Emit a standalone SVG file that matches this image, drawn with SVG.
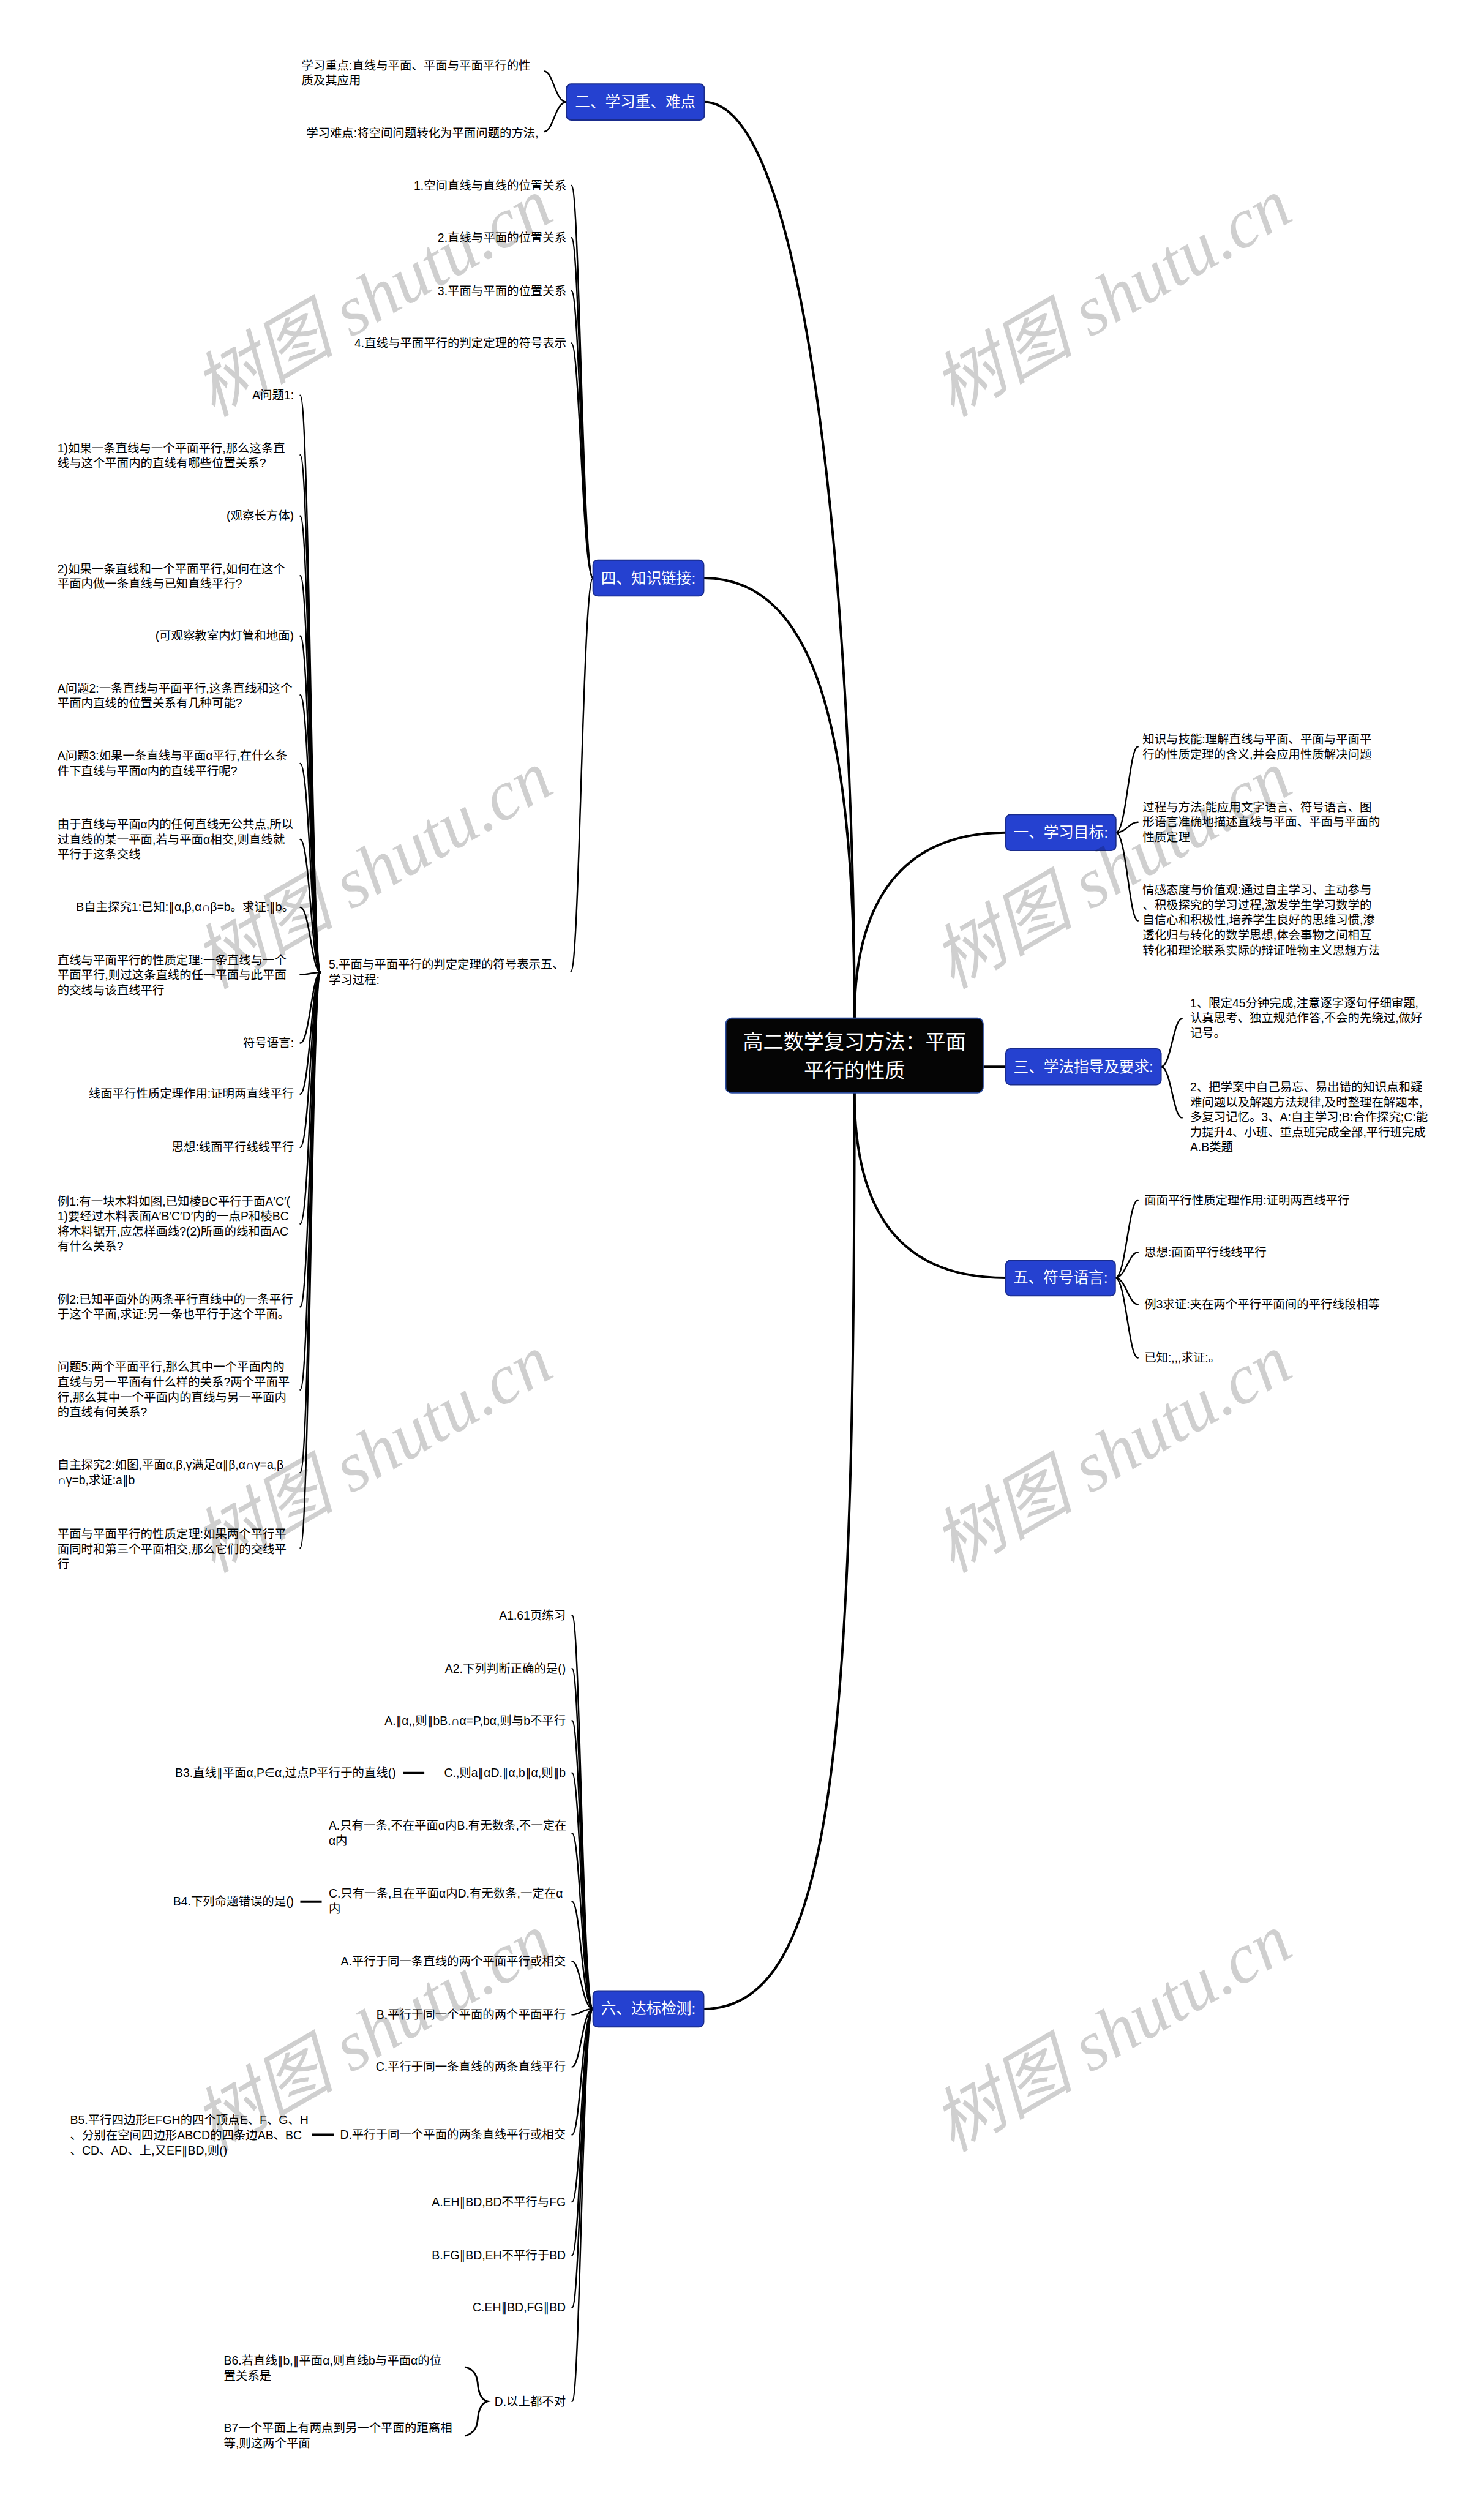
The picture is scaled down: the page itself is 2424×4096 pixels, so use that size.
<svg xmlns="http://www.w3.org/2000/svg" width="2424" height="4096" viewBox="0 0 2424 4096">
<style>
.t{font-family:"Liberation Sans","DejaVu Sans","Noto Sans CJK SC",sans-serif;font-size:20.5px;fill:#000}
.e{text-anchor:end}
.n{font-family:"Liberation Sans","Noto Sans CJK SC",sans-serif;font-size:26px;fill:#fff;text-anchor:middle}
.c{font-family:"Liberation Sans","Noto Sans CJK SC",sans-serif;font-size:35px;fill:#fff;text-anchor:middle}
.box{fill:#2541d0;stroke:#1a2c8c;stroke-width:2}
.root{fill:#050505;stroke:#2a4a9c;stroke-width:2}
.l{fill:none;stroke:#000;stroke-width:2.6;stroke-linecap:round}
.m{fill:none;stroke:#000;stroke-width:4.2;stroke-linecap:round}
.s{fill:none;stroke:#000;stroke-width:4;stroke-linecap:butt}
.wm{font-family:"Liberation Serif","Noto Sans CJK SC",serif;font-style:italic;font-size:122px;fill:#000;fill-opacity:0.19;text-anchor:middle}
</style>
<rect width="2424" height="4096" fill="#fff"/>
<g transform="scale(0.946875)">
<g id="connectors">
<path class="m" d="M1474,1756 C1474,1100 1400,176 1215,176"/>
<path class="m" d="M1474,1756 C1474,1300 1420,997 1214,997"/>
<path class="m" d="M1474,1756 C1474,1550 1560,1436 1735,1436"/>
<path class="m" d="M1696,1840 L1735,1840"/>
<path class="m" d="M1474,1885 C1474,2100 1560,2204 1735,2204"/>
<path class="m" d="M1474,1885 C1474,3000 1440,3465 1214,3465"/>
<path class="l" d="M977,176 C958,176 954,123 939,123"/>
<path class="l" d="M977,176 C958,176 954,227 939,227"/>
<path class="l" d="M1023,997 C1005,997 1000,320 986,320"/>
<path class="l" d="M1023,997 C1005,997 1000,410 986,410"/>
<path class="l" d="M1023,997 C1005,997 1000,502 986,502"/>
<path class="l" d="M1023,997 C1005,997 1000,592 986,592"/>
<path class="l" d="M1023,997 C1005,997 1000,1675 985,1675"/>
<path class="l" d="M553,1677 C538,1677 534,682 518,682"/>
<path class="l" d="M553,1677 C538,1677 534,785 518,785"/>
<path class="l" d="M553,1677 C538,1677 534,890 518,890"/>
<path class="l" d="M553,1677 C538,1677 534,993 518,993"/>
<path class="l" d="M553,1677 C538,1677 534,1097 518,1097"/>
<path class="l" d="M553,1677 C538,1677 534,1199 518,1199"/>
<path class="l" d="M553,1677 C538,1677 534,1317 518,1317"/>
<path class="l" d="M553,1677 C538,1677 534,1448 518,1448"/>
<path class="l" d="M553,1677 C538,1677 534,1565 518,1565"/>
<path class="l" d="M553,1677 C538,1677 534,1681 518,1681"/>
<path class="l" d="M553,1677 C538,1677 534,1799 518,1799"/>
<path class="l" d="M553,1677 C538,1677 534,1887 518,1887"/>
<path class="l" d="M553,1677 C538,1677 534,1979 518,1979"/>
<path class="l" d="M553,1677 C538,1677 534,2111 518,2111"/>
<path class="l" d="M553,1677 C538,1677 534,2254 518,2254"/>
<path class="l" d="M553,1677 C538,1677 534,2397 518,2397"/>
<path class="l" d="M553,1677 C538,1677 534,2540 518,2540"/>
<path class="l" d="M553,1677 C538,1677 534,2670 518,2670"/>
<path class="l" d="M1925,1436 C1943,1436 1948,1288 1963,1288"/>
<path class="l" d="M1925,1436 C1943,1436 1948,1418 1963,1418"/>
<path class="l" d="M1925,1436 C1943,1436 1948,1588 1963,1588"/>
<path class="l" d="M2003,1840 C2020,1840 2024,1757 2039,1757"/>
<path class="l" d="M2003,1840 C2020,1840 2024,1928 2039,1928"/>
<path class="l" d="M1924,2204 C1942,2204 1947,2070 1963,2070"/>
<path class="l" d="M1924,2204 C1942,2204 1947,2160 1963,2160"/>
<path class="l" d="M1924,2204 C1942,2204 1947,2250 1963,2250"/>
<path class="l" d="M1924,2204 C1942,2204 1947,2342 1963,2342"/>
<path class="l" d="M1023,3465 C1005,3465 1001,2786 987,2786"/>
<path class="l" d="M1023,3465 C1005,3465 1001,2878 987,2878"/>
<path class="l" d="M1023,3465 C1005,3465 1001,2968 987,2968"/>
<path class="l" d="M1023,3465 C1005,3465 1001,3058 987,3058"/>
<path class="l" d="M1023,3465 C1005,3465 1001,3162 987,3162"/>
<path class="l" d="M1023,3465 C1005,3465 1001,3280 987,3280"/>
<path class="l" d="M1023,3465 C1005,3465 1001,3383 987,3383"/>
<path class="l" d="M1023,3465 C1005,3465 1001,3475 987,3475"/>
<path class="l" d="M1023,3465 C1005,3465 1001,3565 987,3565"/>
<path class="l" d="M1023,3465 C1005,3465 1001,3682 987,3682"/>
<path class="l" d="M1023,3465 C1005,3465 1001,3798 987,3798"/>
<path class="l" d="M1023,3465 C1005,3465 1001,3890 987,3890"/>
<path class="l" d="M1023,3465 C1005,3465 1001,3980 987,3980"/>
<path class="l" d="M1023,3465 C1005,3465 1001,4142 987,4142"/>
<path class="s" d="M695,3058 L732,3058"/>
<path class="s" d="M518,3280 L555,3280"/>
<path class="s" d="M538,3682 L576,3682"/>
<path class="l" d="M803,4083 Q822,4088 824,4110 Q826,4138 841,4142 Q826,4146 824,4174 Q822,4196 803,4201" style="stroke-width:3"/>
</g>

<g id="root">
<rect class="root" x="1252" y="1756" width="444" height="129" rx="10"/>
<text class="c" x="1474" y="1809">高二数学复习方法：平面</text>
<text class="c" x="1474" y="1859">平行的性质</text>
</g>

<g id="n2"><rect class="box" x="977" y="145" width="238" height="62" rx="8"/><text class="n" x="1096" y="185">二、学习重、难点</text></g>
<g id="n2-1"><text class="t" x="520" y="120">学习重点:直线与平面、平面与平面平行的性<tspan x="520" dy="26">质及其应用</tspan></text></g>
<g id="n2-2"><text class="t e" x="929" y="237">学习难点:将空间问题转化为平面问题的方法,</text></g>

<g id="n4"><rect class="box" x="1023" y="966" width="191" height="62" rx="8"/><text class="n" x="1118.5" y="1006">四、知识链接:</text></g>
<g id="n4-1"><text class="t e" x="977" y="327">1.空间直线与直线的位置关系</text></g>
<g id="n4-2"><text class="t e" x="977" y="417">2.直线与平面的位置关系</text></g>
<g id="n4-3"><text class="t e" x="977" y="509">3.平面与平面的位置关系</text></g>
<g id="n4-4"><text class="t e" x="977" y="599">4.直线与平面平行的判定定理的符号表示</text></g>
<g id="n4-5"><text class="t" x="567" y="1671">5.平面与平面平行的判定定理的符号表示五、<tspan x="567" dy="26">学习过程:</tspan></text></g>

<g id="n4-5-1"><text class="t e" x="507" y="689">A问题1:</text></g>
<g id="n4-5-2"><text class="t" x="99" y="780">1)如果一条直线与一个平面平行,那么这条直<tspan x="99" dy="26">线与这个平面内的直线有哪些位置关系?</tspan></text></g>
<g id="n4-5-3"><text class="t e" x="507" y="897">(观察长方体)</text></g>
<g id="n4-5-4"><text class="t" x="99" y="988">2)如果一条直线和一个平面平行,如何在这个<tspan x="99" dy="26">平面内做一条直线与已知直线平行?</tspan></text></g>
<g id="n4-5-5"><text class="t e" x="507" y="1104">(可观察教室内灯管和地面)</text></g>
<g id="n4-5-6"><text class="t" x="99" y="1194">A问题2:一条直线与平面平行,这条直线和这个<tspan x="99" dy="26">平面内直线的位置关系有几种可能?</tspan></text></g>
<g id="n4-5-7"><text class="t" x="99" y="1311">A问题3:如果一条直线与平面α平行,在什么条<tspan x="99" dy="26">件下直线与平面α内的直线平行呢?</tspan></text></g>
<g id="n4-5-8"><text class="t" x="99" y="1429">由于直线与平面α内的任何直线无公共点,所以<tspan x="99" dy="26">过直线的某一平面,若与平面α相交,则直线就</tspan><tspan x="99" dy="26">平行于这条交线</tspan></text></g>
<g id="n4-5-9"><text class="t e" x="507" y="1572">B自主探究1:已知:∥α,β,α∩β=b。求证:∥b。</text></g>
<g id="n4-5-10"><text class="t" x="99" y="1663">直线与平面平行的性质定理:一条直线与一个<tspan x="99" dy="26">平面平行,则过这条直线的任一平面与此平面</tspan><tspan x="99" dy="26">的交线与该直线平行</tspan></text></g>
<g id="n4-5-11"><text class="t e" x="507" y="1806">符号语言:</text></g>
<g id="n4-5-12"><text class="t e" x="507" y="1894">线面平行性质定理作用:证明两直线平行</text></g>
<g id="n4-5-13"><text class="t e" x="507" y="1986">思想:线面平行线线平行</text></g>
<g id="n4-5-14"><text class="t" x="99" y="2079">例1:有一块木料如图,已知棱BC平行于面A′C′(<tspan x="99" dy="26">1)要经过木料表面A′B′C′D′内的一点P和棱BC</tspan><tspan x="99" dy="26">将木料锯开,应怎样画线?(2)所画的线和面AC</tspan><tspan x="99" dy="26">有什么关系?</tspan></text></g>
<g id="n4-5-15"><text class="t" x="99" y="2248">例2:已知平面外的两条平行直线中的一条平行<tspan x="99" dy="26">于这个平面,求证:另一条也平行于这个平面。</tspan></text></g>
<g id="n4-5-16"><text class="t" x="99" y="2365">问题5:两个平面平行,那么其中一个平面内的<tspan x="99" dy="26">直线与另一平面有什么样的关系?两个平面平</tspan><tspan x="99" dy="26">行,那么其中一个平面内的直线与另一平面内</tspan><tspan x="99" dy="26">的直线有何关系?</tspan></text></g>
<g id="n4-5-17"><text class="t" x="99" y="2534">自主探究2:如图,平面α,β,γ满足α∥β,α∩γ=a,β<tspan x="99" dy="26">∩γ=b,求证:a∥b</tspan></text></g>
<g id="n4-5-18"><text class="t" x="99" y="2653">平面与平面平行的性质定理:如果两个平行平<tspan x="99" dy="26">面同时和第三个平面相交,那么它们的交线平</tspan><tspan x="99" dy="26">行</tspan></text></g>

<g id="n1"><rect class="box" x="1735" y="1405" width="190" height="62" rx="8"/><text class="n" x="1830" y="1445">一、学习目标:</text></g>
<g id="n1-1"><text class="t" x="1971" y="1282">知识与技能:理解直线与平面、平面与平面平<tspan x="1971" dy="26">行的性质定理的含义,并会应用性质解决问题</tspan></text></g>
<g id="n1-2"><text class="t" x="1971" y="1399">过程与方法:能应用文字语言、符号语言、图<tspan x="1971" dy="26">形语言准确地描述直线与平面、平面与平面的</tspan><tspan x="1971" dy="26">性质定理</tspan></text></g>
<g id="n1-3"><text class="t" x="1971" y="1542">情感态度与价值观:通过自主学习、主动参与<tspan x="1971" dy="26">、积极探究的学习过程,激发学生学习数学的</tspan><tspan x="1971" dy="26">自信心和积极性,培养学生良好的思维习惯,渗</tspan><tspan x="1971" dy="26">透化归与转化的数学思想,体会事物之间相互</tspan><tspan x="1971" dy="26">转化和理论联系实际的辩证唯物主义思想方法</tspan></text></g>

<g id="n3"><rect class="box" x="1735" y="1809" width="268" height="62" rx="8"/><text class="n" x="1869" y="1849">三、学法指导及要求:</text></g>
<g id="n3-1"><text class="t" x="2053" y="1737">1、限定45分钟完成,注意逐字逐句仔细审题,<tspan x="2053" dy="26">认真思考、独立规范作答,不会的先绕过,做好</tspan><tspan x="2053" dy="26">记号。</tspan></text></g>
<g id="n3-2"><text class="t" x="2053" y="1882">2、把学案中自己易忘、易出错的知识点和疑<tspan x="2053" dy="26">难问题以及解题方法规律,及时整理在解题本,</tspan><tspan x="2053" dy="26">多复习记忆。3、A:自主学习;B:合作探究;C:能</tspan><tspan x="2053" dy="26">力提升4、小班、重点班完成全部,平行班完成</tspan><tspan x="2053" dy="26">A.B类题</tspan></text></g>

<g id="n5"><rect class="box" x="1735" y="2174" width="189" height="61" rx="8"/><text class="n" x="1829.5" y="2213">五、符号语言:</text></g>
<g id="n5-1"><text class="t" x="1974" y="2077">面面平行性质定理作用:证明两直线平行</text></g>
<g id="n5-2"><text class="t" x="1974" y="2167">思想:面面平行线线平行</text></g>
<g id="n5-3"><text class="t" x="1974" y="2257">例3求证:夹在两个平行平面间的平行线段相等</text></g>
<g id="n5-4"><text class="t" x="1974" y="2349">已知:,,,求证:。</text></g>

<g id="n6"><rect class="box" x="1023" y="3434" width="191" height="62" rx="8"/><text class="n" x="1118.5" y="3474">六、达标检测:</text></g>
<g id="n6-1"><text class="t e" x="976" y="2793">A1.61页练习</text></g>
<g id="n6-2"><text class="t e" x="976" y="2885">A2.下列判断正确的是()</text></g>
<g id="n6-3"><text class="t e" x="976" y="2975">A.∥α,,则∥bB.∩α=P,bα,则与b不平行</text></g>
<g id="n6-4"><text class="t e" x="976" y="3065">C.,则a∥αD.∥α,b∥α,则∥b</text></g>
<g id="n6-4-1"><text class="t e" x="683" y="3065">B3.直线∥平面α,P∈α,过点P平行于的直线()</text></g>
<g id="n6-5"><text class="t" x="567" y="3156">A.只有一条,不在平面α内B.有无数条,不一定在<tspan x="567" dy="26">α内</tspan></text></g>
<g id="n6-6"><text class="t" x="567" y="3273">C.只有一条,且在平面α内D.有无数条,一定在α<tspan x="567" dy="26">内</tspan></text></g>
<g id="n6-6-1"><text class="t e" x="507" y="3287">B4.下列命题错误的是()</text></g>
<g id="n6-7"><text class="t e" x="976" y="3390">A.平行于同一条直线的两个平面平行或相交</text></g>
<g id="n6-8"><text class="t e" x="976" y="3482">B.平行于同一个平面的两个平面平行</text></g>
<g id="n6-9"><text class="t e" x="976" y="3572">C.平行于同一条直线的两条直线平行</text></g>
<g id="n6-10"><text class="t e" x="976" y="3689">D.平行于同一个平面的两条直线平行或相交</text></g>
<g id="n6-10-1"><text class="t" x="121" y="3664">B5.平行四边形EFGH的四个顶点E、F、G、H<tspan x="121" dy="26">、分别在空间四边形ABCD的四条边AB、BC</tspan><tspan x="121" dy="26">、CD、AD、上,又EF∥BD,则()</tspan></text></g>
<g id="n6-11"><text class="t e" x="976" y="3805">A.EH∥BD,BD不平行与FG</text></g>
<g id="n6-12"><text class="t e" x="976" y="3897">B.FG∥BD,EH不平行于BD</text></g>
<g id="n6-13"><text class="t e" x="976" y="3987">C.EH∥BD,FG∥BD</text></g>
<g id="n6-14"><text class="t e" x="976" y="4149">D.以上都不对</text></g>
<g id="n6-14-1"><text class="t" x="386" y="4079">B6.若直线∥b,∥平面α,则直线b与平面α的位<tspan x="386" dy="26">置关系是</tspan></text></g>
<g id="n6-14-2"><text class="t" x="386" y="4195">B7一个平面上有两点到另一个平面的距离相<tspan x="386" dy="26">等,则这两个平面</tspan></text></g>

<g id="watermarks">
<text class="wm" transform="translate(645,516) rotate(-30)" y="38">树图 shutu.cn</text>
<text class="wm" transform="translate(1920,516) rotate(-30)" y="38">树图 shutu.cn</text>
<text class="wm" transform="translate(645,1503) rotate(-30)" y="38">树图 shutu.cn</text>
<text class="wm" transform="translate(1920,1503) rotate(-30)" y="38">树图 shutu.cn</text>
<text class="wm" transform="translate(645,2510) rotate(-30)" y="38">树图 shutu.cn</text>
<text class="wm" transform="translate(1920,2510) rotate(-30)" y="38">树图 shutu.cn</text>
<text class="wm" transform="translate(645,3509) rotate(-30)" y="38">树图 shutu.cn</text>
<text class="wm" transform="translate(1920,3509) rotate(-30)" y="38">树图 shutu.cn</text>
</g>
</g>
</svg>
